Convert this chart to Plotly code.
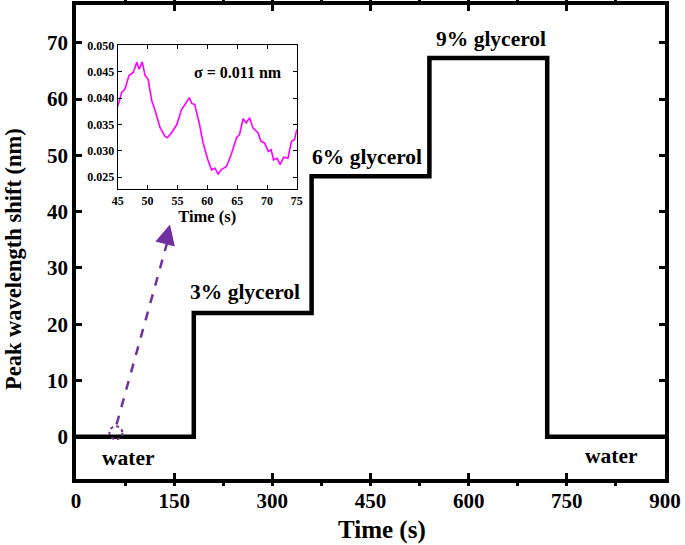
import plotly.graph_objects as go

# Main step data
step_time = [0, 180, 360, 540, 720, 900]
step_shift = [0, 22, 46.3, 67.3, 0, 0]
x_ticks = [0, 150, 300, 450, 600, 750, 900]
y_ticks = [0, 10, 20, 30, 40, 50, 60, 70]

# Inset noise data
inset_time = [45, 45.67, 46.2, 46.9, 47.6, 48.2, 48.6, 49.1, 49.6, 50.1, 50.7, 51.2, 52.1, 52.9,
              53.3, 54.0, 54.9, 55.7, 56.4, 57.0, 57.4, 57.9, 58.7, 59.3, 60.1, 60.7, 61.3, 61.8,
              62.4, 63.2, 64.0, 64.9, 65.4, 66.0, 66.5, 67.1, 67.6, 68.5, 69.0, 69.6, 70.2, 70.7,
              71.1, 71.7, 72.2, 72.8, 73.5, 74.1, 74.6, 75.0]
inset_shift = [0.0384, 0.0411, 0.0417, 0.0443, 0.0449, 0.0468, 0.0455, 0.0469, 0.0443, 0.0436,
               0.0395, 0.0379, 0.0344, 0.0328, 0.0325, 0.0334, 0.0350, 0.0379, 0.0390, 0.0401,
               0.0390, 0.0388, 0.0350, 0.0315, 0.0283, 0.0264, 0.0267, 0.0256, 0.0265, 0.0270,
               0.0293, 0.0325, 0.0331, 0.0361, 0.0353, 0.0363, 0.0344, 0.0334, 0.0318, 0.0315,
               0.0299, 0.0302, 0.0283, 0.0286, 0.0274, 0.0288, 0.0286, 0.0318, 0.0321, 0.0341]
inset_x_ticks = [45, 50, 55, 60, 65, 70, 75]
inset_y_ticks = [0.025, 0.030, 0.035, 0.040, 0.045, 0.050]

FONT = "Liberation Serif"
PURPLE = "#7030A0"

fig = go.Figure()
fig.add_trace(go.Scatter(x=step_time, y=step_shift, mode="lines", line_shape="hv",
                         line=dict(color="black", width=4.5), showlegend=False,
                         xaxis="x", yaxis="y"))
fig.add_trace(go.Scatter(x=inset_time, y=inset_shift, mode="lines",
                         line=dict(color="#FF00FF", width=1.6), showlegend=False,
                         xaxis="x2", yaxis="y2"))

axis_common = dict(showgrid=False, zeroline=False, showline=True, linecolor="black",
                   mirror="ticks", ticks="inside", tickcolor="black")

fig.update_layout(
    width=685, height=545,
    margin=dict(l=76, r=20, t=5, b=66, autoexpand=False),
    paper_bgcolor="white", plot_bgcolor="white",
    font=dict(family=FONT, color="black", weight="bold"),
    xaxis=dict(**axis_common, range=[0, 900], tickvals=x_ticks, linewidth=3.5,
               ticklen=6, tickwidth=2.5, automargin=False,
               minor=dict(dtick=75, ticks="outside", ticklen=3, tickwidth=2.5, tickcolor="black"),
               tickfont=dict(family=FONT, size=21, weight="bold")),
    yaxis=dict(**axis_common, range=[-7.5, 76.7], tickvals=y_ticks, linewidth=3.5,
               ticklen=6, tickwidth=2.5, automargin=False,
               tickfont=dict(family=FONT, size=21, weight="bold")),
    xaxis2=dict(**axis_common, domain=[0.0708, 0.375], anchor="y2", range=[45, 75],
                tickvals=inset_x_ticks, linewidth=1.2, ticklen=4, tickwidth=1,
                tickfont=dict(family=FONT, size=12, weight="bold"),
                title=dict(text="Time (s)", font=dict(family=FONT, size=16.5, weight="bold"), standoff=2)),
    yaxis2=dict(**axis_common, domain=[0.6118, 0.9156], anchor="x2", range=[0.02276, 0.0501],
                tickvals=inset_y_ticks, tickformat=".3f", linewidth=1.2, ticklen=4, tickwidth=1,
                tickfont=dict(family=FONT, size=12, weight="bold")),
)

# main axis titles
fig.add_annotation(text="Time (s)", xref="paper", yref="paper", x=0.52, y=-0.108,
                   showarrow=False, xanchor="center", yanchor="middle",
                   font=dict(family=FONT, size=25, color="black", weight="bold"))
fig.add_annotation(text="Peak wavelength shift (nm)", xref="paper", yref="paper", x=-0.107, y=0.464,
                   textangle=-90, showarrow=False, xanchor="center", yanchor="middle",
                   font=dict(family=FONT, size=22.5, color="black", weight="bold"))

def label(text, x, y, size=21.5, xref="x", yref="y"):
    fig.add_annotation(text=text, x=x, y=y, xref=xref, yref=yref, showarrow=False,
                       font=dict(family=FONT, size=size, color="black", weight="bold"),
                       xanchor="center", yanchor="middle")

label("3% glycerol", 258, 25.8)
label("6% glycerol", 444.6, 49.7)
label("9% glycerol", 634, 70.7)
label("water", 79.5, -3.7)
label("water", 818.5, -3.4)
label("σ = 0.011 nm", 65.2, 0.0448, size=16, xref="x2", yref="y2")

# dotted circle marking the zoomed region
fig.add_shape(type="circle", xref="x", yref="y", xsizemode="pixel", ysizemode="pixel",
              xanchor=61, yanchor=0.7, x0=-6.5, x1=6.5, y0=-6.5, y1=6.5,
              line=dict(color=PURPLE, width=2, dash="dot"))
# dashed arrow shaft
fig.add_shape(type="line", xref="x", yref="y", x0=62, y0=2.2, x1=140.5, y1=35.0,
              line=dict(color=PURPLE, width=2.5, dash="dash"))
# arrow head
fig.add_annotation(x=143.6, y=37.7, xref="x", yref="y", ax=-3, ay=12, axref="pixel", ayref="pixel",
                   showarrow=True, arrowhead=2, arrowsize=1.6, arrowwidth=2.5, arrowcolor=PURPLE, text="")

fig.write_html("out.html", config={"displayModeBar": False},
               post_script="document.body.style.margin='0';")
